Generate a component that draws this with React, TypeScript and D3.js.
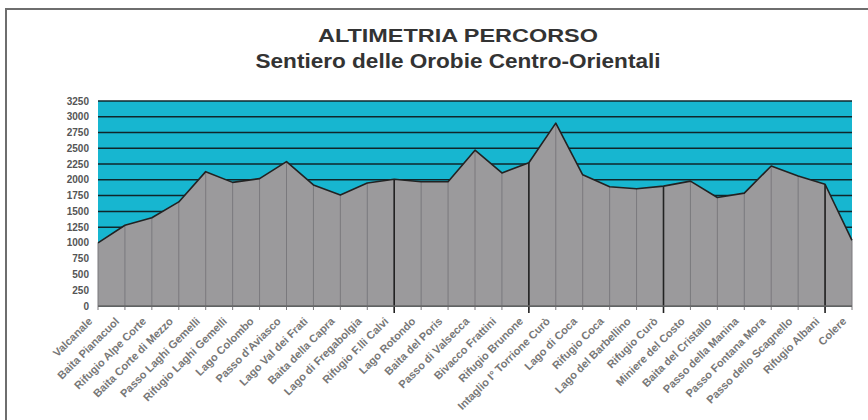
import React from 'react';
import * as d3 from 'd3';

const places = [
  'Valcanale', 'Baita Pianacuol', 'Rifugio Alpe Corte', 'Baita Corte di Mezzo',
  'Passo Laghi Gemelli', 'Rifugio Laghi Gemelli', 'Lago Colombo', "Passo d'Aviasco",
  'Lago Val dei Frati', 'Baita della Capra', 'Lago di Fregabolgia', 'Rifugio F.lli Calvi',
  'Lago Rotondo', 'Baita del Poris', 'Passo di Valsecca', 'Bivacco Frattini',
  'Rifugio Brunone', 'Intaglio I° Torrione Curò', 'Lago di Coca', 'Rifugio Coca',
  'Lago del Barbellino', 'Rifugio Curò', 'Miniere del Costo', 'Baita del Cristallo',
  'Passo della Manina', 'Passo Fontana Mora', 'Passo dello Scagnello', 'Rifugio Albani',
  'Colere',
];

const quote = [
  1000, 1280, 1400, 1650, 2130, 1960, 2020, 2290, 1920, 1760, 1950, 2010,
  1970, 1970, 2470, 2110, 2270, 2900, 2080, 1890, 1860, 1900, 1980, 1720,
  1790, 2220, 2060, 1930, 1040,
];

// stage ends (rifugi) marked with a thick line
const tappe = ['Rifugio F.lli Calvi', 'Rifugio Brunone', 'Rifugio Curò', 'Rifugio Albani'];

const yTicks = d3.range(0, 3251, 250);

const W = 868;
const H = 420;
const margin = { top: 101, right: 16, bottom: 114, left: 98 };

export default function App() {
  const x = d3.scalePoint<string>()
    .domain(places)
    .range([margin.left, W - margin.right]);
  const y = d3.scaleLinear()
    .domain([0, 3250])
    .range([H - margin.bottom, margin.top]);

  const area = d3.area<number>()
    .x((_d, i) => x(places[i])!)
    .y0(y(0))
    .y1(d => y(d));
  const line = d3.line<number>()
    .x((_d, i) => x(places[i])!)
    .y(d => y(d));

  const x0 = margin.left;
  const x1 = W - margin.right;
  const font = 'Arial, "Liberation Sans", sans-serif';

  return (
    <svg width={W} height={H} style={{ position: 'absolute', left: 0, top: 0, background: '#fff' }}>
      <path d={`M6,${H} L6,9 L${W},9`} fill="none" stroke="#6e6e6e" strokeWidth={2} />

      <text x={458} y={42} textAnchor="middle" fontFamily={font} fontWeight="bold" fontSize={18.5}
        fill="#333" textLength={280} lengthAdjust="spacingAndGlyphs">
        ALTIMETRIA PERCORSO
      </text>
      <text x={458} y={68} textAnchor="middle" fontFamily={font} fontWeight="bold" fontSize={20}
        fill="#333" textLength={405} lengthAdjust="spacingAndGlyphs">
        Sentiero delle Orobie Centro-Orientali
      </text>

      <rect x={x0} y={y(3250)} width={x1 - x0} height={y(0) - y(3250)} fill="#17b6d0" />
      {yTicks.map(t => (
        <line key={t} x1={x0} x2={x1} y1={y(t)} y2={y(t)} stroke="#10262b" strokeWidth={1.5} />
      ))}
      {yTicks.map(t => (
        <text key={'l' + t} x={89} y={y(t) + 3.5} textAnchor="end" fontFamily={font} fontWeight="bold"
          fontSize={10} fill="#555">
          {t}
        </text>
      ))}

      <path d={area(quote)!} fill="#9b9a9c" />
      {places.map((p, i) => (
        <line key={'v' + p} x1={x(p)} x2={x(p)} y1={y(quote[i])} y2={y(0) + 4}
          stroke="#7a797d" strokeWidth={1} />
      ))}
      {tappe.map(p => (
        <line key={'t' + p} x1={x(p)} x2={x(p)} y1={y(quote[places.indexOf(p)])} y2={y(0) + 7}
          stroke="#222" strokeWidth={1.6} />
      ))}
      <path d={line(quote)!} fill="none" stroke="#222" strokeWidth={1.6} strokeLinejoin="round" />
      <line x1={x0} x2={x1} y1={y(0)} y2={y(0)} stroke="#666" strokeWidth={1.5} />

      {places.map(p => (
        <text key={'x' + p} transform={`translate(${x(p)! - 5},${y(0) + 16}) rotate(-45)`}
          textAnchor="end" fontFamily={font} fontSize={11} fontWeight="bold" fill="#777">
          {p}
        </text>
      ))}
    </svg>
  );
}
